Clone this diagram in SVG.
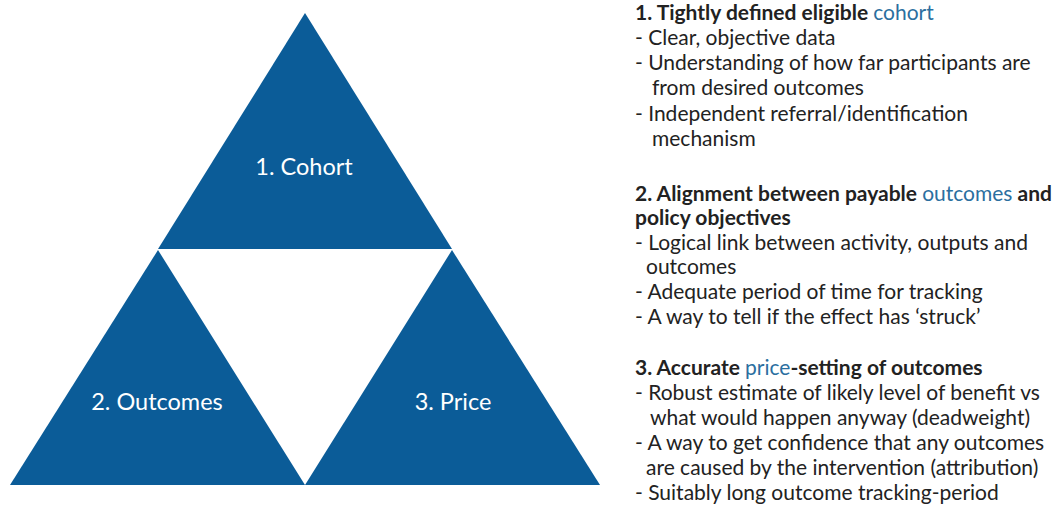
<svg xmlns="http://www.w3.org/2000/svg" width="1063" height="510" viewBox="0 0 1063 510">
  <style>
    .tri { fill: #0b5c98; }
    .lbl { font-family: Lato, "Liberation Sans", sans-serif; font-size: 23.5px; fill: #ffffff; text-anchor: middle; }
    .txt { font-family: Lato, "Liberation Sans", sans-serif; font-size: 21px; fill: #222222; }
    .hd { font-weight: bold; }
    .hl { fill: #2b6f9f; font-weight: normal; }
  </style>
  <rect width="1063" height="510" fill="#ffffff"/>

  <!-- triangle segments -->
  <g id="cohort">
    <polygon class="tri" points="305,13 452,249 158,249"/>
    <text class="lbl" x="304" y="175">1. Cohort</text>
  </g>
  <g id="outcomes">
    <polygon class="tri" points="158,250 305,485 10,485"/>
    <text class="lbl" x="157" y="410">2. Outcomes</text>
  </g>
  <g id="price">
    <polygon class="tri" points="452,250 600,485 305,485"/>
    <text class="lbl" x="453" y="410">3. Price</text>
  </g>
  <g id="connectors"></g>

  <!-- criteria text -->
  <g id="criteria-cohort" class="txt">
    <text x="635" y="20"><tspan class="hd">1. Tightly defined eligible </tspan><tspan class="hl">cohort</tspan></text>
    <text x="635" y="45">- Clear, objective data</text>
    <text x="635" y="70">- Understanding of how far participants are</text>
    <text x="652" y="95">from desired outcomes</text>
    <text x="635" y="121">- Independent referral/identification</text>
    <text x="652" y="146">mechanism</text>
  </g>
  <g id="criteria-outcomes" class="txt">
    <text x="635" y="201"><tspan class="hd">2. Alignment between payable </tspan><tspan class="hl">outcomes</tspan><tspan class="hd"> and</tspan></text>
    <text x="635" y="225" class="hd">policy objectives</text>
    <text x="635" y="250">- Logical link between activity, outputs and</text>
    <text x="646" y="274">outcomes</text>
    <text x="635" y="299">- Adequate period of time for tracking</text>
    <text x="635" y="324">- A way to tell if the effect has ‘struck’</text>
  </g>
  <g id="criteria-price" class="txt">
    <text x="635" y="375"><tspan class="hd">3. Accurate </tspan><tspan class="hl">price</tspan><tspan class="hd">-setting of outcomes</tspan></text>
    <text x="635" y="400">- Robust estimate of likely level of benefit vs</text>
    <text x="650" y="425">what would happen anyway (deadweight)</text>
    <text x="635" y="450">- A way to get confidence that any outcomes</text>
    <text x="646" y="475">are caused by the intervention (attribution)</text>
    <text x="635" y="500">- Suitably long outcome tracking-period</text>
  </g>
</svg>
